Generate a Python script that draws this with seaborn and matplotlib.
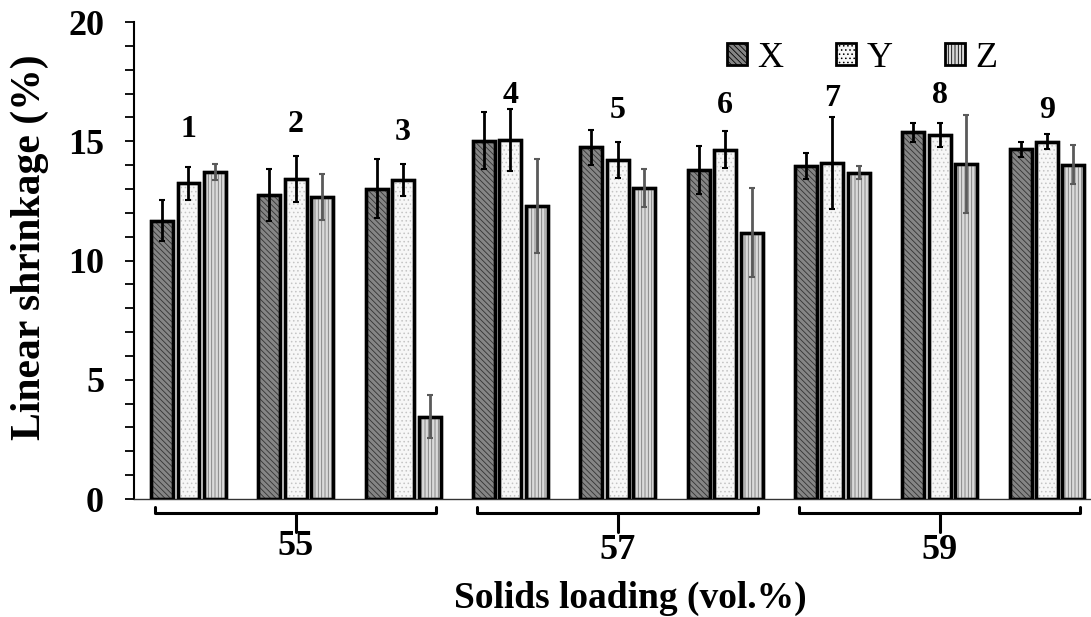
import numpy as np
import pandas as pd
import matplotlib
matplotlib.use("Agg")
import matplotlib.pyplot as plt
from matplotlib.patches import Patch, Rectangle
import seaborn as sns

# ---- data ----
samples = ["1", "2", "3", "4", "5", "6", "7", "8", "9"]
directions = ["X", "Y", "Z"]
x_vals = [11.67, 12.75, 13.01, 15.02, 14.74, 13.79, 13.96, 15.37, 14.66]
y_vals = [13.24, 13.42, 13.38, 15.05, 14.23, 14.65, 14.10, 15.28, 14.98]
z_vals = [13.70, 12.65, 3.45, 12.28, 13.05, 11.17, 13.68, 14.05, 14.02]
x_err = [0.87, 1.10, 1.23, 1.19, 0.73, 1.02, 0.55, 0.38, 0.30]
y_err = [0.70, 0.97, 0.67, 1.30, 0.75, 0.78, 1.92, 0.50, 0.32]
z_err = [0.33, 0.96, 0.91, 1.96, 0.79, 1.87, 0.28, 2.05, 0.82]
label_y = [15.5, 15.7, 15.35, 16.9, 16.3, 16.5, 16.8, 16.9, 16.3]
loadings = ["55", "57", "59"]

sns.set_theme(style="white")
plt.rcParams["font.family"] = ["Liberation Serif", "DejaVu Serif"]
plt.rcParams["hatch.linewidth"] = 0.6
for k in ["text.color", "axes.labelcolor", "xtick.color", "ytick.color"]:
    plt.rcParams[k] = "black"

df = pd.DataFrame({
    "sample": samples * 3,
    "dir": ["X"] * 9 + ["Y"] * 9 + ["Z"] * 9,
    "val": x_vals + y_vals + z_vals,
})
errs = [x_err, y_err, z_err]

fig = plt.figure(figsize=(10.91, 6.17), dpi=100)
ax = fig.add_axes([0.1228, 0.1912, 0.8772, 0.7731])

sns.barplot(data=df, x="sample", y="val", hue="dir", hue_order=directions,
            order=samples, width=0.74, gap=0.17, errorbar=None, ax=ax,
            legend=False, palette=["#8c8c8c", "#f7f7f7", "#d9d9d9"])

styles = {
    "X": dict(fc="#858585", hatch="\\\\\\\\\\\\", hc="#333333"),
    "Y": dict(fc="#f7f7f7", hatch="....", hc="#c4c4c4"),
    "Z": dict(fc="#dadada", hatch="|||||", hc="#7a7a7a"),
}
err_colors = {"X": "black", "Y": "black", "Z": "#5a5a5a"}

for i, d in enumerate(directions):
    cont = ax.containers[i]
    st = styles[d]
    xs, tops = [], []
    for p in cont.patches:
        p.set_facecolor(st["fc"])
        p.set_edgecolor("black")
        p.set_linewidth(2.4)
        p.set_zorder(3)
        h = Rectangle((p.get_x(), p.get_y()), p.get_width(), p.get_height(),
                      facecolor="none", edgecolor=st["hc"], hatch=st["hatch"],
                      linewidth=0, zorder=3.5)
        ax.add_patch(h)
        border = Rectangle((p.get_x(), p.get_y()), p.get_width(), p.get_height(),
                           facecolor="none", edgecolor="black", linewidth=2.4,
                           zorder=3.6)
        ax.add_patch(border)
        xs.append(p.get_x() + p.get_width() / 2)
        tops.append(p.get_height())
    ax.errorbar(xs, tops, yerr=errs[i], fmt="none", ecolor=err_colors[d],
                elinewidth=2.0, capsize=2, capthick=1.5, zorder=5)

# sample numbers
for j, s in enumerate(samples):
    ax.text(j, label_y[j], s, ha="center", va="center", fontsize=23,
            fontweight="bold", color="black")

ax.set_xlim(-0.508, 8.41)
ax.set_ylim(0, 20)
ax.set_yticks([0, 5, 10, 15, 20])
ax.set_yticks(np.arange(0, 21, 1), minor=True)
ax.tick_params(axis="y", which="both", direction="out", length=6.5, width=1.3,
               left=True, labelsize=26, pad=15, color="black")
ax.tick_params(axis="x", bottom=False, labelbottom=False)
for lab in ax.get_yticklabels():
    lab.set_fontweight("bold")
ax.set_xlabel("")
ax.set_ylabel("")
fig.text(0.0275, 0.5997, "Linear shrinkage (%)", rotation=90, ha="center",
         va="center", fontsize=30, fontweight="bold")

for sp in ["top", "right"]:
    ax.spines[sp].set_visible(False)
ax.spines["left"].set_color("black")
ax.spines["left"].set_linewidth(1.5)
ax.spines["bottom"].set_color("#333333")
ax.spines["bottom"].set_linewidth(1.0)

# brackets and group labels
for g, lab in enumerate(loadings):
    c0 = g * 3
    xl, xr, xm = c0 - 0.31, c0 + 2.31, c0 + 1
    ax.plot([xl, xl, xr, xr], [-0.34, -0.59, -0.59, -0.34], color="black",
            lw=2.2, clip_on=False, solid_joinstyle="round")
    ax.plot([xm, xm], [-0.59, -1.4], color="black", lw=2.2, clip_on=False)
    ax.text(xm, -2.0 if g == 0 else -2.15, lab, ha="center", va="center",
            fontsize=26, fontweight="bold")

fig.text(0.5775, 0.0308, "Solids loading (vol.%)", ha="center", va="center",
         fontsize=27, fontweight="bold")

handles = [Patch(facecolor=styles[d]["fc"], edgecolor="black", linewidth=2,
                 hatch=styles[d]["hatch"]) for d in directions]
leg = ax.legend(handles, directions, ncol=3, frameon=False, loc="center left",
                bbox_to_anchor=(0.6196, 0.9245), fontsize=26, handlelength=0.55,
                handleheight=0.55, handletextpad=0.3, columnspacing=1.45,
                borderpad=0, borderaxespad=0)

fig.savefig("out.png", dpi=100)
